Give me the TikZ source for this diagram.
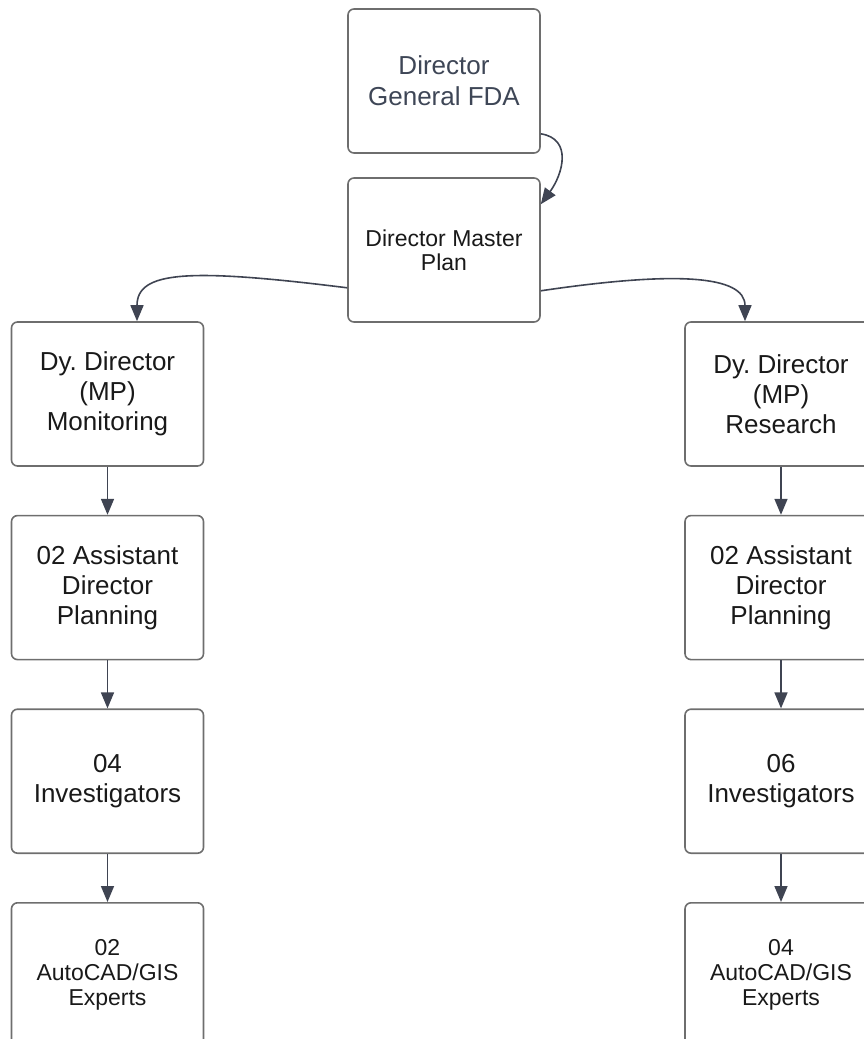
\documentclass[tikz,border=0pt]{standalone}
\usepackage{fontspec}
\setmainfont{Liberation Sans}
\usetikzlibrary{positioning,arrows.meta}
\definecolor{linegray}{HTML}{6E6E6E}
\definecolor{arrowslate}{HTML}{3F4452}
\definecolor{textslate}{HTML}{3E4656}
\frenchspacing

\begin{document}
\begin{tikzpicture}[
x=1pt,y=-1pt,
>={Triangle[length=16pt,width=13pt]},
box/.style={
	draw=linegray,
	line width=1.6pt,
	rounded corners=6pt,
	minimum width=192pt,
	minimum height=144pt,
	align=center,
	text=black!90,
	font=\fontsize{26}{30}\selectfont
},
smallbox/.style={
	box,
	font=\fontsize{23}{25}\selectfont
},
link/.style={
	->,
	draw=arrowslate,
	line width=1.6pt
}
]
\useasboundingbox (0,0) rectangle (864,1039);

\node[box,text=textslate,font=\fontsize{26}{31}\selectfont] (dg) at (444,81) {Director\\General FDA};
\node[smallbox,font=\fontsize{23}{24}\selectfont] (dmp) at (444,250) {Director Master\\Plan};

% monitoring column
\node[box] (l1) at (107.5,394) {Dy. Director\\(MP)\\Monitoring};
\node[box,below=48pt of l1] (l2) {02 Assistant\\Director\\Planning};
\node[box,below=48pt of l2] (l3) {04\\Investigators};
\node[smallbox,below=48pt of l3] (l4) {02\\AutoCAD/GIS\\Experts};

% research column
\node[box] (r1) at (781,394) {Dy. Director\\(MP)\\Research};
\node[box,below=48pt of r1] (r2) {02 Assistant\\Director\\Planning};
\node[box,below=48pt of r2] (r3) {06\\Investigators};
\node[smallbox,below=48pt of r3] (r4) {04\\AutoCAD/GIS\\Experts};

\draw[link] ([yshift=20pt]dg.south east) .. controls +(32,5) and +(22,-30) .. ([yshift=-27pt]dmp.north east);
\draw[link] ([yshift=35pt]dmp.south west) .. controls +(-160,-20) and +(0,-50) .. ([xshift=29.5pt]l1.north);
\draw[link] ([yshift=32pt]dmp.south east) .. controls +(135,-20) and +(0,-46) .. ([xshift=-36pt]r1.north);

\foreach \c in {l,r}
\foreach \i/\j in {1/2,2/3,3/4}
\draw[link] (\c\i) -- (\c\j);
\end{tikzpicture}
\end{document}
